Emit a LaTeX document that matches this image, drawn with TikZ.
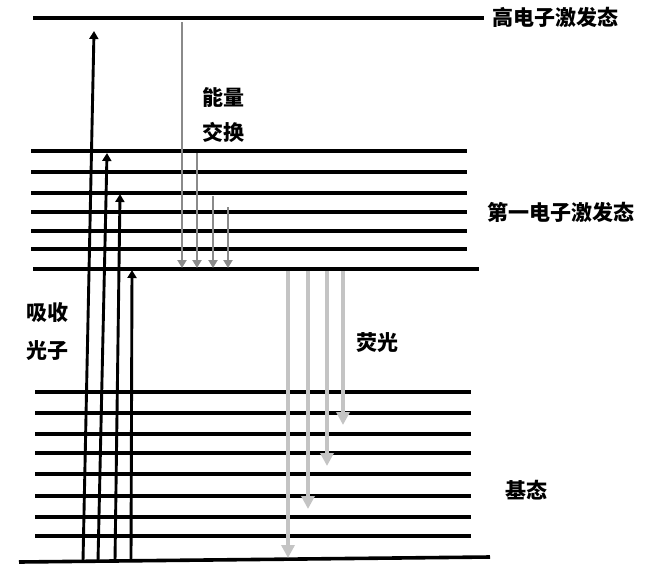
\documentclass[tikz,border=0pt]{standalone}
\usepackage{fontspec}
\setmainfont{Noto Sans CJK SC}
\usetikzlibrary{arrows.meta}
\definecolor{relaxgray}{HTML}{8A8A8A}
\definecolor{fluorgray}{HTML}{C4C4C4}
\begin{document}
\begin{tikzpicture}[x=1pt,y=-1pt,
  level/.style={line width=3.2pt},
  absorb/.style={line width=2.9pt,-{Triangle[length=8pt,width=9pt]}},
  relax/.style={draw=relaxgray,line width=2.7pt,-{Triangle[length=8pt,width=9pt]}},
  fluor/.style={draw=fluorgray,line width=4.4pt,-{Triangle[length=13pt,width=13pt]}},
  lbl/.style={font=\fontsize{21}{25}\selectfont\bfseries,inner sep=0pt}]
\useasboundingbox (0,0) rectangle (648,574);
% high excited state
\draw[level] (33,18) -- (484,18);
% first excited state
\foreach \y in {151,172,193,212,231,249} \draw[level] (31,\y) -- (467,\y);
\draw[level] (33,269) -- (479,269);
% ground state
\foreach \y in {392,413,434,453,474,496,517,536} \draw[level] (35,\y) -- (471,\y);
\draw[line width=3.6pt] (19,562) -- (490,557);
% labels
\node[lbl] (high) at (555,17) {高电子激发态};
\node[lbl] (first) at (561,212) {第一电子激发态};
\node[lbl] (ground) at (526,490) {基态};
\node[lbl] (ex1) at (223,97) {能量};
\node[lbl] (ex2) at (223,132) {交换};
\node[lbl] (fl) at (377,343) {荧光};
\node[lbl] (ab1) at (47,313) {吸收};
\node[lbl] (ab2) at (47,351) {光子};
% absorption arrows
\coordinate (a1s) at (83,561); \coordinate (a1e) at (94,31);
\coordinate (a2s) at (98,561); \coordinate (a2e) at (107,153);
\coordinate (a3s) at (115,561); \coordinate (a3e) at (120,194);
\coordinate (a4s) at (131,560); \coordinate (a4e) at (132,270);
\draw[absorb] (a1s) -- (a1e);
\draw[absorb] (a2s) -- (a2e);
\draw[absorb] (a3s) -- (a3e);
\draw[absorb] (a4s) -- (a4e);
% energy exchange (relaxation) arrows
\coordinate (r1s) at (182,22);  \coordinate (r1e) at (182,268);
\coordinate (r2s) at (197,153); \coordinate (r2e) at (197,268);
\coordinate (r3s) at (213,196); \coordinate (r3e) at (213,268);
\coordinate (r4s) at (228,207); \coordinate (r4e) at (228,268);
\draw[relax] (r1s) -- (r1e);
\draw[relax] (r2s) -- (r2e);
\draw[relax] (r3s) -- (r3e);
\draw[relax] (r4s) -- (r4e);
% fluorescence arrows
\coordinate (f1s) at (288,271); \coordinate (f1e) at (288,558);
\coordinate (f2s) at (308,271); \coordinate (f2e) at (308,509);
\coordinate (f3s) at (327,271); \coordinate (f3e) at (327,466);
\coordinate (f4s) at (343,271); \coordinate (f4e) at (343,425);
\draw[fluor] (f1s) -- (f1e);
\draw[fluor] (f2s) -- (f2e);
\draw[fluor] (f3s) -- (f3e);
\draw[fluor] (f4s) -- (f4e);
\end{tikzpicture}
\end{document}
